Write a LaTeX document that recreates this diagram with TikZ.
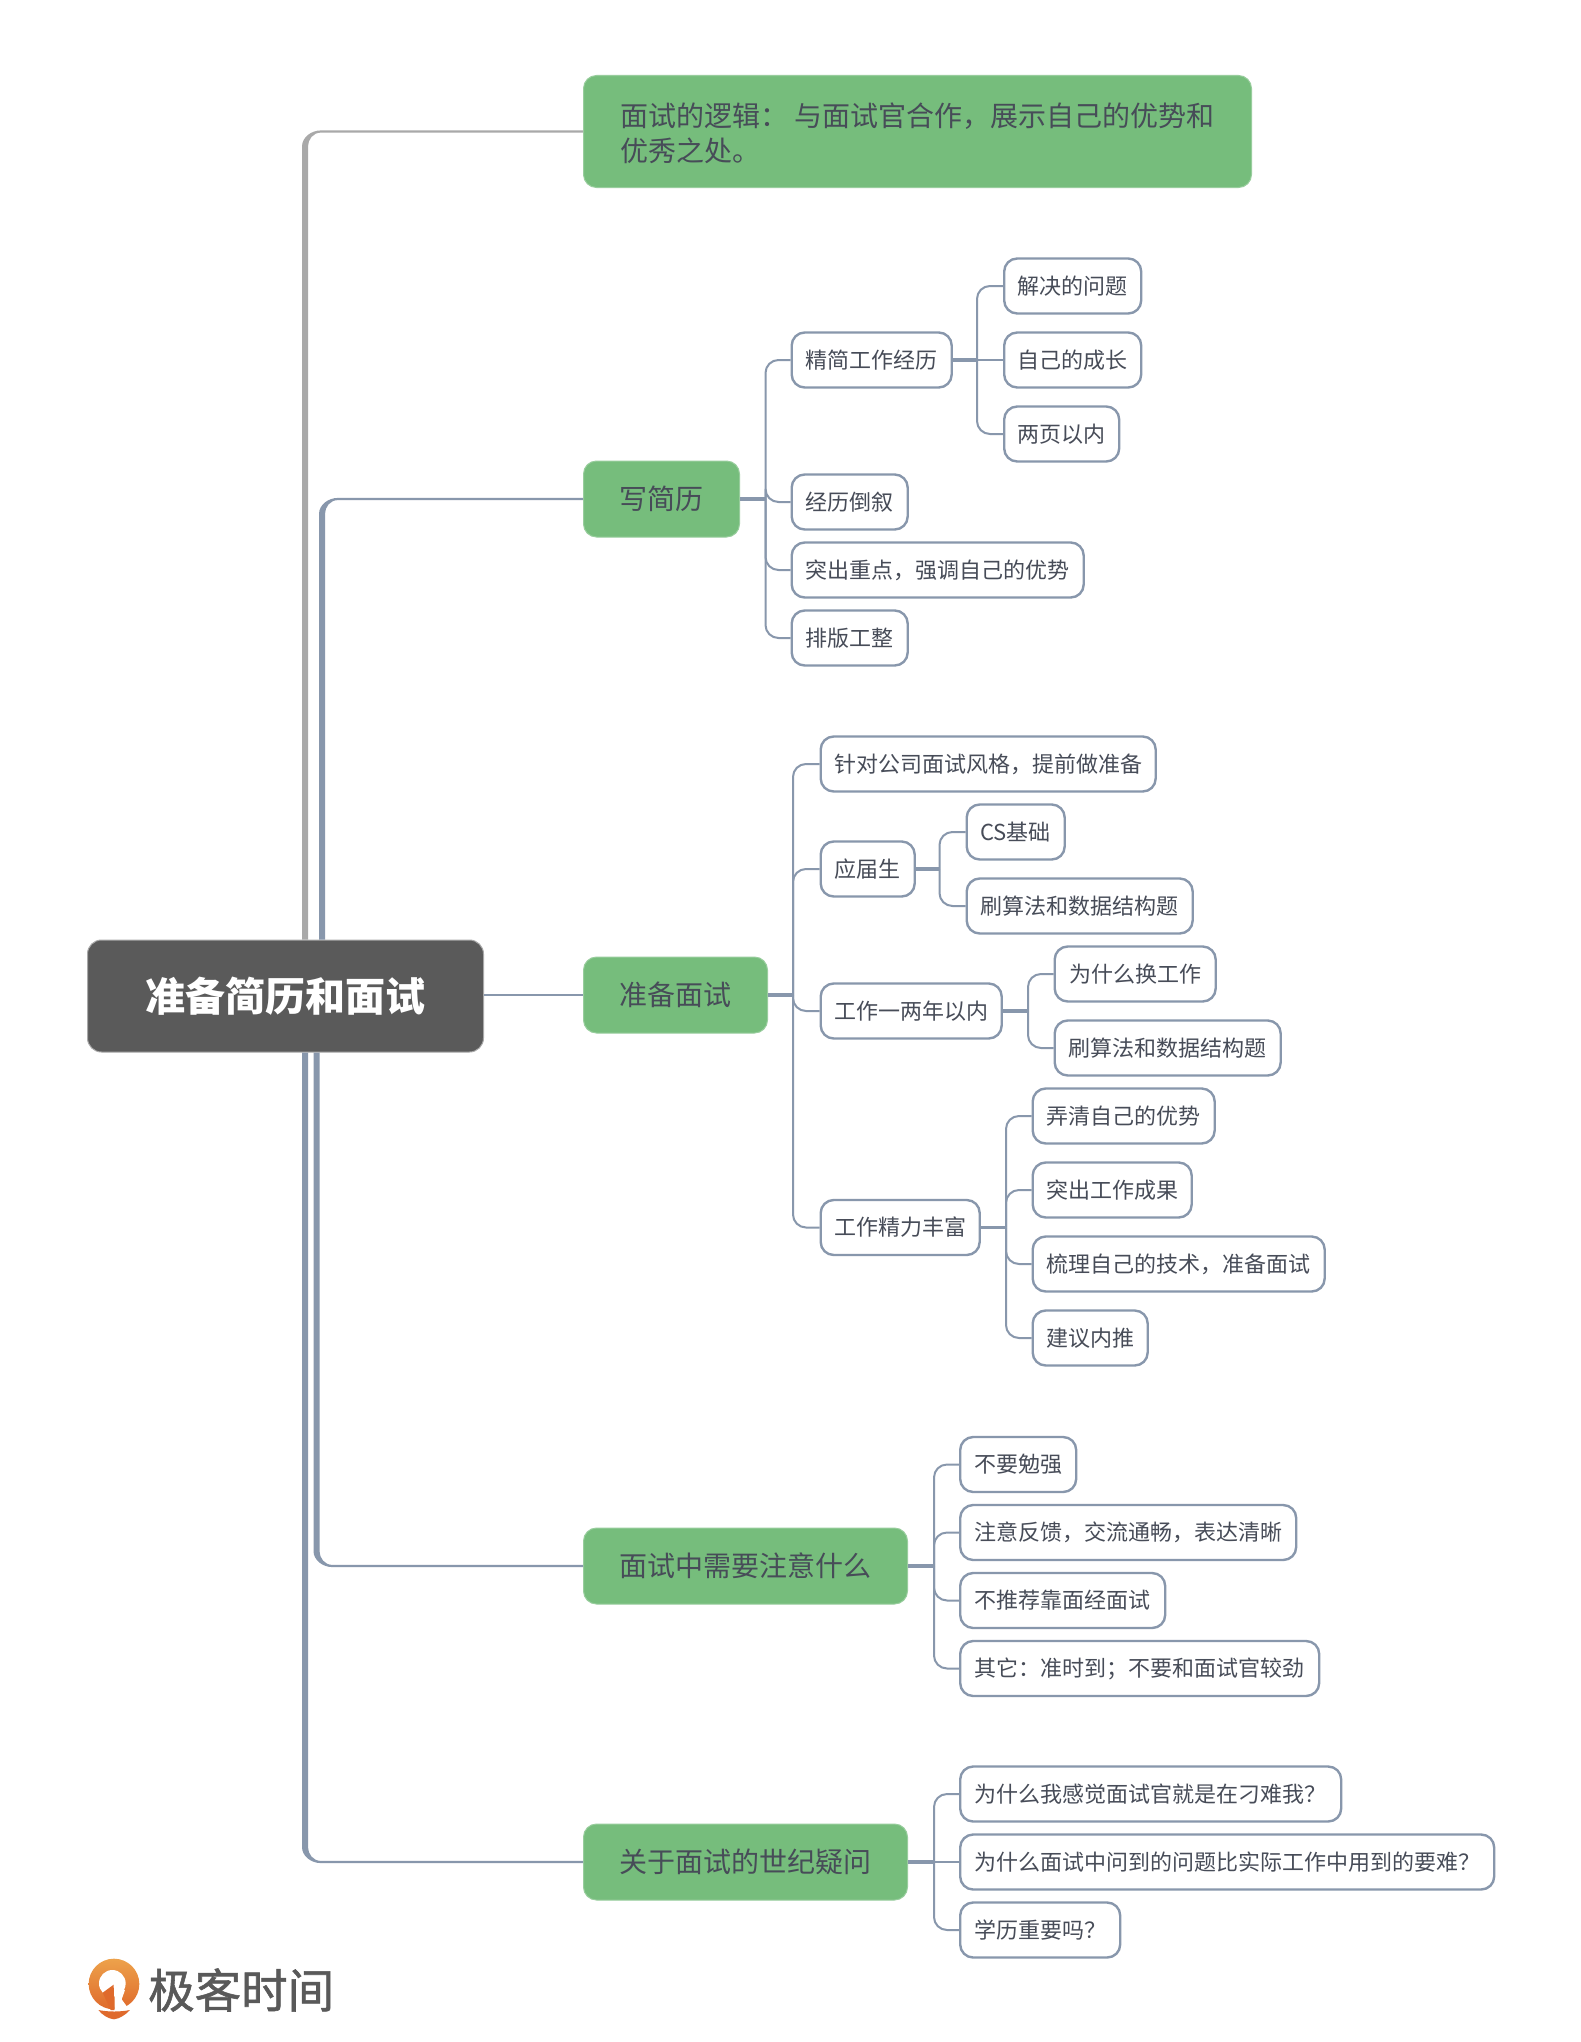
\documentclass[tikz,border=0pt]{standalone}
\usepackage{fontspec}
\setmainfont{Noto Sans CJK SC}
\newfontfamily\logofont[FakeBold=1.2]{Noto Sans CJK SC}
\usetikzlibrary{calc}
\definecolor{rootfill}{HTML}{5A5A5A}
\definecolor{greenfill}{HTML}{76BD7C}
\definecolor{linkblue}{HTML}{8897AC}
\definecolor{linkgrey}{HTML}{A9A9A9}
\definecolor{inktext}{HTML}{474C58}
\definecolor{logoA}{HTML}{EDA24B}
\definecolor{logoB}{HTML}{DF6A2C}
\definecolor{logotext}{HTML}{595959}
\tikzset{
  rootnode/.style={anchor=west,fill=rootfill,draw=linkgrey,line width=1pt,rounded corners=14pt,text=white,
    minimum height=112pt,inner sep=0pt,font=\fontsize{40}{48}\selectfont\bfseries},
  topicnode/.style={anchor=west,fill=greenfill,draw=greenfill!75!white,line width=1pt,rounded corners=13pt,text=inktext,
    minimum height=76pt,inner sep=0pt,font=\fontsize{28}{35}\selectfont},
  leafnode/.style={anchor=west,fill=white,draw=linkblue,line width=2.4pt,rounded corners=13pt,text=inktext,
    minimum height=55pt,inner sep=0pt,font=\fontsize{22}{28}\selectfont},
  stub/.style={draw=linkblue,line width=3.2pt},
  twig/.style={draw=linkblue,line width=2pt,rounded corners=13pt},
}
% parent, child, elbow coordinate
\newcommand{\twiglink}[3]{\draw[twig] (#1.east -| #3) -- (#3 |- #2.west) -- (#2.west);}
\newcommand{\stublink}[2]{\draw[stub] (#1.east) -- (#1.east -| #2);}
% topic, trunk coordinate, colour, root anchor, direction: tapered link from the root to a topic
\newcommand{\trunklink}[5]{%
  \fill[#3] let \p1=(#2 |- #1.west), \p2=(root.#4 -| #2), \p3=(#1.west) in
    ({\x1-3pt},\y2) -- ({\x1-3pt},{\y1+(#5)*15pt})
    .. controls ({\x1-3pt},{\y1+(#5)*6pt}) and ({\x1+6pt},{\y1-(#5)*1.1pt}) .. ({\x1+16pt},{\y1-(#5)*1.1pt})
    -- (\x3,{\y1-(#5)*1.1pt}) -- (\x3,{\y1+(#5)*1.1pt}) -- ({\x1+16pt},{\y1+(#5)*1.1pt})
    .. controls ({\x1+8pt},{\y1+(#5)*1.1pt}) and ({\x1+3pt},{\y1+(#5)*8pt}) .. ({\x1+3pt},{\y1+(#5)*15pt})
    -- ({\x1+3pt},\y2) -- cycle;}
\begin{document}
\begin{tikzpicture}[x=1pt,y=-1pt]
\useasboundingbox (0,0) rectangle (1581,2042);
\fill[white] (0,0) rectangle (1581,2042);
% nodes
\node[rootnode,minimum width=396pt] (root) at (87,996) {准备简历和面试};
\node[topicnode,minimum width=668pt,minimum height=112pt] (t1) at (583,131.5) {\raisebox{-11.5pt}[0pt][0pt]{\begin{tabular}{@{}l@{}}面试的逻辑： 与面试官合作，展示自己的优势和\\优秀之处。\end{tabular}}};
\node[topicnode,minimum width=156pt] (t2) at (583,499) {写简历};
\node[topicnode,minimum width=184pt] (t3) at (583,995) {准备面试};
\node[topicnode,minimum width=324pt] (t4) at (583,1566) {面试中需要注意什么};
\node[topicnode,minimum width=324pt] (t5) at (583,1862) {关于面试的世纪疑问};
% branch 2
\node[leafnode,minimum width=160pt] (a1) at (790.5,360) {精简工作经历};
\node[leafnode,minimum width=137pt] (a11) at (1003,286) {解决的问题};
\node[leafnode,minimum width=137pt] (a12) at (1003,360) {自己的成长};
\node[leafnode,minimum width=115pt] (a13) at (1003,434) {两页以内};
\node[leafnode,minimum width=116pt] (a2) at (790.5,502) {经历倒叙};
\node[leafnode,minimum width=292pt] (a3) at (790.5,570) {突出重点，强调自己的优势};
\node[leafnode,minimum width=116pt] (a4) at (790.5,638) {排版工整};
% branch 3
\node[leafnode,minimum width=335pt] (b1) at (819.5,764) {针对公司面试风格，提前做准备};
\node[leafnode,minimum width=94pt] (b2) at (819.5,869) {应届生};
\node[leafnode,minimum width=98pt] (b21) at (965.5,832) {CS基础};
\node[leafnode,minimum width=226pt] (b22) at (965.5,906) {刷算法和数据结构题};
\node[leafnode,minimum width=181pt] (b3) at (819.5,1011) {工作一两年以内};
\node[leafnode,minimum width=161pt] (b31) at (1053.5,974) {为什么换工作};
\node[leafnode,minimum width=226pt] (b32) at (1053.5,1048) {刷算法和数据结构题};
\node[leafnode,minimum width=159pt] (b4) at (819.5,1227.5) {工作精力丰富};
\node[leafnode,minimum width=182pt] (b41) at (1031.5,1116) {弄清自己的优势};
\node[leafnode,minimum width=159pt] (b42) at (1031.5,1190) {突出工作成果};
\node[leafnode,minimum width=292pt] (b43) at (1031.5,1264) {梳理自己的技术，准备面试};
\node[leafnode,minimum width=115pt] (b44) at (1031.5,1338) {建议内推};
% branch 4
\node[leafnode,minimum width=116pt] (c1) at (959,1464.5) {不要勉强};
\node[leafnode,minimum width=336pt] (c2) at (959,1532.5) {注意反馈，交流通畅，表达清晰};
\node[leafnode,minimum width=205pt] (c3) at (959,1600.5) {不推荐靠面经面试};
\node[leafnode,minimum width=359pt] (c4) at (959,1668.5) {其它：准时到；不要和面试官较劲};
% branch 5
\node[leafnode,minimum width=381pt] (d1) at (959,1794) {为什么我感觉面试官就是在刁难我？};
\node[leafnode,minimum width=534pt] (d2) at (959,1862) {为什么面试中问到的问题比实际工作中用到的要难？};
\node[leafnode,minimum width=160pt] (d3) at (959,1930) {学历重要吗？};
% elbows
\coordinate (ra) at (305,0);
\coordinate (rb) at (322,0);
\coordinate (rc) at (316.5,0);
\coordinate (ea) at (765.5,0);
\coordinate (ea1) at (977,0);
\coordinate (eb) at (793,0);
\coordinate (eb2) at (939.5,0);
\coordinate (eb3) at (1028,0);
\coordinate (eb4) at (1006,0);
\coordinate (ec) at (934,0);
% root links
\trunklink{t1}{ra}{linkgrey}{north}{-1}
\trunklink{t2}{rb}{linkblue}{north}{-1}
\trunklink{t4}{rc}{linkblue}{south}{1}
\trunklink{t5}{ra}{linkblue}{south}{1}
\draw[line width=2.4pt,draw=linkblue] (root.east |- t3.west) -- (t3.west);
% branch 2 links
\stublink{t2}{ea}
\twiglink{t2}{a1}{ea}\twiglink{t2}{a2}{ea}\twiglink{t2}{a3}{ea}\twiglink{t2}{a4}{ea}
\stublink{a1}{ea1}
\twiglink{a1}{a11}{ea1}\draw[twig] (a1.east -| ea1) -- (a12.west);\twiglink{a1}{a13}{ea1}
% branch 3 links
\stublink{t3}{eb}
\twiglink{t3}{b1}{eb}\twiglink{t3}{b2}{eb}\twiglink{t3}{b3}{eb}\twiglink{t3}{b4}{eb}
\stublink{b2}{eb2}
\twiglink{b2}{b21}{eb2}\twiglink{b2}{b22}{eb2}
\stublink{b3}{eb3}
\twiglink{b3}{b31}{eb3}\twiglink{b3}{b32}{eb3}
\stublink{b4}{eb4}
\twiglink{b4}{b41}{eb4}\twiglink{b4}{b42}{eb4}\twiglink{b4}{b43}{eb4}\twiglink{b4}{b44}{eb4}
% branch 4 links
\stublink{t4}{ec}
\twiglink{t4}{c1}{ec}\twiglink{t4}{c2}{ec}\twiglink{t4}{c3}{ec}\twiglink{t4}{c4}{ec}
% branch 5 links
\stublink{t5}{ec}
\twiglink{t5}{d1}{ec}\draw[twig] (t5.east -| ec) -- (d2.west);\twiglink{t5}{d3}{ec}
% logo
\begin{scope}[shift={(80,1950)},x=0.3333pt,y=-0.3333pt]
  \shade[top color=logoA,bottom color=logoB] (102,102) circle[radius=76];
  \fill[white] (97,100) circle[radius=40];
  \fill[white] (104,105) -- (104,182) -- (150,182) -- (125,148) -- (135,120) -- cycle;
  \fill[logoB] (68,128) -- (101,104) -- (103,180) -- (92,180) -- cycle;
  \fill[logoB] (55,180) .. controls (85,186) and (120,186) .. (150,180) .. controls (135,196) and (118,206) .. (102,208) .. controls (85,206) and (68,196) .. (55,180) -- cycle;
\end{scope}
\node[anchor=west,inner sep=0pt,text=logotext,font=\fontsize{46.5}{46}\logofont] (logo) at (148,1990) {极客时间};
\end{tikzpicture}
\end{document}
